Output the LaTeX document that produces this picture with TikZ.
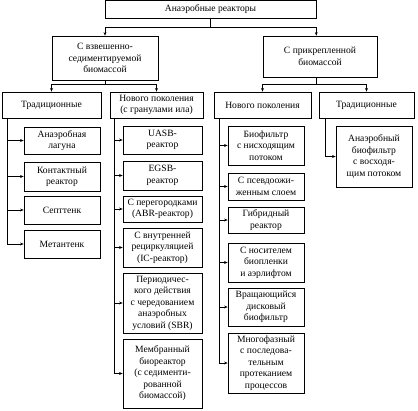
\documentclass[tikz,border=0pt]{standalone}
\usepackage{fontspec}
\setmainfont{Liberation Serif}
\usetikzlibrary{arrows.meta}
\begin{document}
\begin{tikzpicture}[x=1pt,y=-1pt,
  box/.style={draw, line width=0.55pt, fill=white, inner sep=0pt, align=center,
    font=\fontsize{9.6}{11.5}\selectfont},
  ln/.style={line width=0.55pt},
  arr/.style={line width=0.55pt, -{Stealth[length=3.6pt,width=2.8pt]}}]
\useasboundingbox[fill=white] (0,0) rectangle (418,410);
% boxes
\node[box, minimum width=211, minimum height=17.5] (top) at (210.5,9.5) {Анаэробные реакторы};
\node[box, minimum width=106, minimum height=44] (L2a) at (105,58) {С взвешенно-\\седиментируемой\\биомассой};
\node[box, minimum width=114, minimum height=41] (L2b) at (320,56.5) {С прикрепленной\\биомассой};
\node[box, minimum width=99, minimum height=26] (L3a) at (51.5,105) {Традиционные};
\node[box, minimum width=93, minimum height=26] (L3b) at (156.5,105) {Нового поколения\\(с гранулами ила)};
\node[box, minimum width=97, minimum height=26] (L3c) at (262.5,105) {Нового поколения};
\node[box, minimum width=95, minimum height=26] (L3d) at (366.5,105) {Традиционные};
% traditional (suspended)
\node[box, minimum width=76, minimum height=27] (A1) at (62,140.5) {Анаэробная\\лагуна};
\node[box, minimum width=76, minimum height=29] (A2) at (62,176.5) {Контактный\\реактор};
\node[box, minimum width=76, minimum height=28] (A3) at (62,210) {Септтенк};
\node[box, minimum width=76, minimum height=28] (A4) at (62,244) {Метантенк};
% granules
\node[box, minimum width=79, minimum height=28] (B1) at (162.5,140) {UASB-\\реактор};
\node[box, minimum width=79, minimum height=29] (B2) at (162.5,175.5) {EGSB-\\реактор};
\node[box, minimum width=79, minimum height=26] (B3) at (162.5,209) {С перегородками\\(ABR-реактор)};
\node[box, minimum width=79, minimum height=39] (B4) at (162.5,247.5) {С внутренней\\рециркуляцией\\(IC-реактор)};
\node[box, minimum width=79, minimum height=60] (B5) at (162.5,303) {Периодичес-\\кого действия\\с чередованием\\анаэробных\\условий (SBR)};
\node[box, minimum width=79, minimum height=69] (B6) at (162.5,373.5) {Мембранный\\биореактор\\(с седименти-\\рованной\\биомассой)};
% attached new
\node[box, minimum width=76, minimum height=39] (C1) at (266,145.5) {Биофильтр\\с нисходящим\\потоком};
\node[box, minimum width=76, minimum height=27] (C2) at (266,186.5) {С псевдоожи-\\женным слоем};
\node[box, minimum width=76, minimum height=26] (C3) at (266,220) {Гибридный\\реактор};
\node[box, minimum width=76, minimum height=39] (C4) at (266,262.5) {С носителем\\биопленки\\и аэрлифтом};
\node[box, minimum width=76, minimum height=38] (C5) at (266,307) {Вращающийся\\дисковый\\биофильтр};
\node[box, minimum width=76, minimum height=60] (C6) at (266,363) {Многофазный\\с последова-\\тельным\\протеканием\\процессов};
% attached traditional
\node[box, minimum width=76, minimum height=61] (D1) at (374,156.5) {Анаэробный\\биофильтр\\с восходя-\\щим потоком};
% bus coordinates
\coordinate (j0) at (0,27);
\coordinate (j1) at (0,84);
\coordinate (busA) at (7.5,0);
\coordinate (busB) at (114,0);
\coordinate (busC) at (219,0);
\coordinate (busD) at (325,0);
% top level connectors
\draw[ln] (top.south) -- (top.south |- j0);
\draw[ln] (L2a.north |- j0) -- (top.east |- j0);
\draw[arr] (L2a.north |- j0) -- (L2a.north);
\draw[arr] (top.east |- j0) -- (top.east |- L2b.north);
% second level
\draw[ln] (L2a.south) -- (L2a.south |- j1);
\draw[ln] (L3a.north |- j1) -- (L3b.north |- j1);
\draw[arr] (L3a.north |- j1) -- (L3a.north);
\draw[arr] (L3b.north |- j1) -- (L3b.north);
\draw[ln] (top.east |- L2b.south) -- (top.east |- j1);
\draw[ln] (L3c.north |- j1) -- (L3d.north |- j1);
\draw[arr] (L3c.north |- j1) -- (L3c.north);
\draw[arr] (L3d.north |- j1) -- (L3d.north);
% buses
\foreach \n in {A1,A2,A3,A4} \draw[arr] (busA |- L3a.south) |- (\n.west);
\foreach \n in {B1,B2,B3,B4,B5,B6} \draw[arr] (busB |- L3b.south) |- (\n.west);
\foreach \n in {C1,C2,C3,C4,C5,C6} \draw[arr] (busC |- L3c.south) |- (\n.west);
\draw[arr] (busD |- L3d.south) |- (D1.west);
\end{tikzpicture}
\end{document}
